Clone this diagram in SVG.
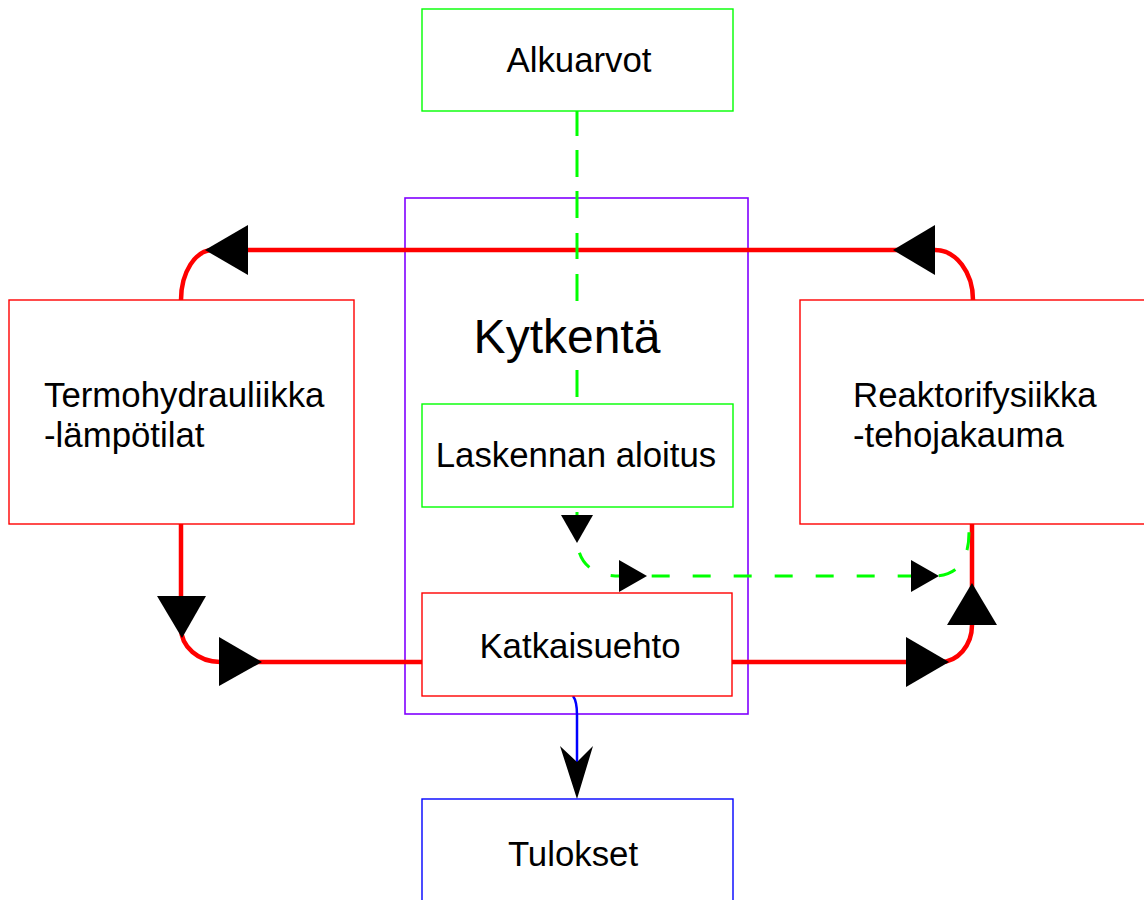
<svg xmlns="http://www.w3.org/2000/svg" width="1144" height="900" viewBox="0 0 1144 900">
  <style>
    .box { fill: #ffffff; stroke-width: 1.4; }
    .g { stroke: #00ff00; }
    .r { stroke: #ff0000; }
    .b { stroke: #0000ff; }
    .p { fill: none; stroke: #8000ff; stroke-width: 1.6; }
    .lbl { font-family: "Liberation Sans", Arial, sans-serif; font-size: 34.8px; fill: #000000; }
    .big { font-size: 48px; }
    .mid { text-anchor: middle; }
    .red-line { fill: none; stroke: #ff0000; stroke-width: 4.5; }
    .green-line { fill: none; stroke: #00ff00; stroke-width: 3; }
    .blue-line { fill: none; stroke: #0000ff; stroke-width: 2.5; }
    .head { fill: #000000; stroke: none; }
  </style>

  <!-- coupling frame -->
  <g id="kytkenta">
    <rect class="p" x="405" y="198" width="343" height="516"/>
    <text class="lbl big mid" x="567" y="353">Kytkentä</text>
  </g>

  <g id="connectors">
    <!-- red feedback loop between the two solvers -->
    <path class="red-line" d="M181,300 A32,50 0 0 1 213,250 H935 A38,50 0 0 1 973,300"/>
    <path class="red-line" d="M181,524 V628 A39,34 0 0 0 220,662 H422"/>
    <path class="red-line" d="M732,662 H940 A32,37 0 0 0 972,625 V524"/>

    <!-- initial values into start of computation -->
    <path class="green-line" d="M577,111 V136 M577,150 V177 M577,191 V218 M577,233 V259 M577,274 V301 M577,370 V397"/>

    <!-- start of computation to reactor physics -->
    <path class="green-line" stroke-dasharray="18 23" stroke-dashoffset="-5" d="M577,507 V538 Q578,576 620,576 H933 Q969,576 969,532 V524"/>

    <!-- stop condition to results -->
    <path class="blue-line" d="M573,696 C576,700 577,705 577,715 V765"/>

    <!-- arrowheads -->
    <polygon class="head" points="205,250 248,225 248,275"/>
    <polygon class="head" points="893,250 935,225 935,275"/>
    <polygon class="head" points="157,596 206,596 182,638"/>
    <polygon class="head" points="219,637 219,686 262,662"/>
    <polygon class="head" points="906,637 906,687 949,662"/>
    <polygon class="head" points="947,625 997,625 972,583"/>
    <polygon class="head" points="561,515 593,515 577,543"/>
    <polygon class="head" points="619,560 619,592 647,576"/>
    <polygon class="head" points="911,560 911,592 939,576"/>
    <polygon class="head" points="577,799 560,746 577,762 593,746"/>
  </g>

  <g id="alkuarvot">
    <rect class="box g" x="422" y="9" width="311" height="102"/>
    <text class="lbl mid" x="579" y="72">Alkuarvot</text>
  </g>

  <g id="termohydrauliikka">
    <rect class="box r" x="9" y="300" width="345" height="224"/>
    <text class="lbl" x="44" y="407">Termohydrauliikka</text>
    <text class="lbl" x="44" y="447">-lämpötilat</text>
  </g>

  <g id="reaktorifysiikka">
    <rect class="box r" x="800" y="300" width="350" height="224"/>
    <text class="lbl" x="853" y="407">Reaktorifysiikka</text>
    <text class="lbl" x="853" y="447">-tehojakauma</text>
  </g>

  <g id="laskennan-aloitus">
    <rect class="box g" x="422" y="404" width="311" height="103"/>
    <text class="lbl mid" x="576" y="467">Laskennan aloitus</text>
  </g>

  <g id="katkaisuehto">
    <rect class="box r" x="422" y="593" width="310" height="103"/>
    <text class="lbl mid" x="580" y="658">Katkaisuehto</text>
  </g>

  <g id="tulokset">
    <rect class="box b" x="422" y="799" width="311" height="120"/>
    <text class="lbl mid" x="573" y="866">Tulokset</text>
  </g>
</svg>
